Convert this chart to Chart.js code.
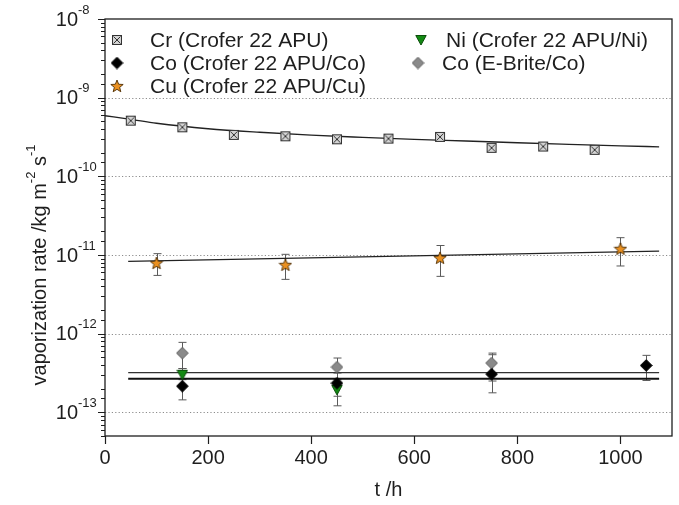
<!DOCTYPE html>
<html lang="en">
<head>
<meta charset="UTF-8">
<title>Vaporization rate vs. time</title>
<script src="https://cdn.jsdelivr.net/npm/chart.js"></script>
<style>
  html, body { margin: 0; padding: 0; background: #fff; }
</style>
</head>
<body>
<canvas id="vapChart" width="679" height="505"></canvas>
<script>
// ---- values ----
const crTime = [50, 150, 250, 350, 450, 550, 650, 750, 850, 950];
const crRate = [5.1e-10, 4.2e-10, 3.36e-10, 3.23e-10, 2.96e-10, 3.02e-10, 3.17e-10, 2.3e-10, 2.39e-10, 2.17e-10];

const cuTime = [100, 350, 650, 1000];
const cuRate = [7.9e-12, 7.5e-12, 9.2e-12, 1.2e-11];
const cuLow  = [5.5e-12, 4.9e-12, 5.35e-12, 7.25e-12];
const cuHigh = [1.04e-11, 1.02e-11, 1.32e-11, 1.66e-11];

const coTime = [150, 450, 750, 1050];
const coRate = [2.15e-13, 2.35e-13, 3.06e-13, 3.94e-13];
const coLow  = [1.44e-13, 1.6e-13, 1.77e-13, 2.54e-13];
const coHigh = [3.2e-13, 3.2e-13, 5.4e-13, 5.3e-13];

const niTime = [150, 450];
const niRate = [3.0e-13, 1.93e-13];
const niLow  = [2.6e-13, 1.21e-13];
const niHigh = [3.6e-13, 2.6e-13];

const ebTime = [150, 450, 750];
const ebRate = [5.66e-13, 3.76e-13, 4.23e-13];
const ebLow  = [3.6e-13, 3.16e-13, 2.5e-13];
const ebHigh = [7.75e-13, 4.9e-13, 5.66e-13];

// fitted curves
const crFitTime = [0, 50, 100, 200, 300, 400, 500, 600, 700, 800, 900, 1000, 1075];
const crFitRate = [5.9e-10, 5.3e-10, 4.73e-10, 4.03e-10, 3.63e-10, 3.34e-10, 3.13e-10, 2.95e-10, 2.81e-10, 2.67e-10, 2.55e-10, 2.44e-10, 2.37e-10];
const cuFitTime = [45, 1075];
const cuFitRate = [8.3e-12, 1.12e-11];
const coFitTime = [45, 1075];
const ebFitRate = [3.2e-13, 3.2e-13];
const coFitRate = [2.67e-13, 2.67e-13];

const yDecades = [-13, -12, -11, -10, -9, -8];

const FONT = '"Liberation Sans", Arial, Helvetica, sans-serif';
const INK = '#1e1e1e';

function pts(xs, ys) {
  return xs.map((x, i) => ({x: x, y: ys[i]}));
}

// marker images
function makeMarker(size, draw) {
  const c = document.createElement('canvas');
  c.width = size; c.height = size;
  draw(c.getContext('2d'), size);
  return c;
}
const crMark = makeMarker(12, g => {
  g.fillStyle = '#d4d4d4';
  g.fillRect(1, 1, 10, 10);
  g.strokeStyle = '#333';
  g.lineWidth = 1;
  g.strokeRect(1.5, 1.5, 9, 9);
  g.beginPath();
  g.moveTo(2.5, 2.5); g.lineTo(9.5, 9.5);
  g.moveTo(9.5, 2.5); g.lineTo(2.5, 9.5);
  g.stroke();
});
function diamond(fill, stroke) {
  return makeMarker(13, g => {
    g.beginPath();
    g.moveTo(6.5, 0.7); g.lineTo(12.3, 6.5); g.lineTo(6.5, 12.3); g.lineTo(0.7, 6.5);
    g.closePath();
    g.fillStyle = fill; g.fill();
    g.strokeStyle = stroke; g.lineWidth = 1; g.stroke();
  });
}
const coMark = diamond('#000', '#000');
const ebMark = diamond('#8a8a8a', '#5e5e5e');
const niMark = makeMarker(12, g => {
  g.beginPath();
  g.moveTo(0.8, 1.5); g.lineTo(11.2, 1.5); g.lineTo(6, 11);
  g.closePath();
  g.fillStyle = '#138a13'; g.fill();
  g.strokeStyle = '#0b4d0b'; g.lineWidth = 1; g.stroke();
});
const cuMark = makeMarker(14, g => {
  g.beginPath();
  for (let k = 0; k < 10; k++) {
    const r = k % 2 === 0 ? 6.5 : 2.8;
    const a = -Math.PI / 2 + k * Math.PI / 5;
    const px = 7 + r * Math.cos(a), py = 7.5 + r * Math.sin(a);
    if (k === 0) g.moveTo(px, py); else g.lineTo(px, py);
  }
  g.closePath();
  g.fillStyle = '#ea9020'; g.fill();
  g.strokeStyle = '#4d2c00'; g.lineWidth = 0.9; g.stroke();
});

function isDecade(v) {
  const l = Math.log10(v);
  return Math.abs(l - Math.round(l)) < 1e-6;
}

// dotted decade grid lines + error bars, under the markers
const underlay = {
  id: 'underlay',
  beforeDatasetsDraw(chart) {
    const {ctx, chartArea: a, scales: {x, y}} = chart;
    ctx.save();
    ctx.strokeStyle = '#8c8c8c';
    ctx.lineWidth = 1;
    ctx.setLineDash([1.2, 2.2]);
    yDecades.forEach(e => {
      if (e >= -8) return;
      const py = Math.round(y.getPixelForValue(Math.pow(10, e))) + 0.5;
      ctx.beginPath(); ctx.moveTo(a.left, py); ctx.lineTo(a.right, py); ctx.stroke();
    });
    ctx.setLineDash([]);
    ctx.strokeStyle = '#5a5a5a';
    chart.data.datasets.forEach(ds => {
      if (!ds.errLow) return;
      ds.data.forEach((p, j) => {
        const px = Math.round(x.getPixelForValue(p.x)) + 0.5;
        const lo = y.getPixelForValue(ds.errLow[j]);
        const hi = y.getPixelForValue(ds.errHigh[j]);
        ctx.beginPath();
        ctx.moveTo(px, lo); ctx.lineTo(px, hi);
        ctx.moveTo(px - 4, lo); ctx.lineTo(px + 4, lo);
        ctx.moveTo(px - 4, hi); ctx.lineTo(px + 4, hi);
        ctx.stroke();
      });
    });
    ctx.restore();
  }
};

// frame, y ticks with superscript labels, axis titles, legend
const overlay = {
  id: 'overlay',
  afterDraw(chart) {
    const {ctx, chartArea: a, scales: {y}} = chart;
    ctx.save();
    ctx.strokeStyle = INK;
    ctx.lineWidth = 1.3;
    ctx.strokeRect(a.left, a.top, a.right - a.left, a.bottom - a.top);

    ctx.lineWidth = 1;
    y.ticks.forEach(t => {
      const py = Math.round(y.getPixelForValue(t.value)) + 0.5;
      const len = isDecade(t.value) ? 7 : 4;
      ctx.beginPath(); ctx.moveTo(a.left - len, py); ctx.lineTo(a.left, py); ctx.stroke();
    });

    ctx.fillStyle = INK;
    ctx.textBaseline = 'middle';
    yDecades.forEach(e => {
      const py = y.getPixelForValue(Math.pow(10, e));
      ctx.font = '20px ' + FONT;
      ctx.textAlign = 'right';
      ctx.fillText('10', 78, py + 1);
      ctx.font = '13px ' + FONT;
      ctx.textAlign = 'left';
      ctx.fillText(String(e), 78, py - 9);
    });

    // y title with superscripts
    const parts = [['vaporization rate /kg m', 20, 0], ['-2', 13, -9], [' s', 20, 0], ['-1', 13, -9]];
    let total = 0;
    parts.forEach(p => { ctx.font = p[1] + 'px ' + FONT; total += ctx.measureText(p[0]).width; });
    ctx.translate(40, 265);
    ctx.rotate(-Math.PI / 2);
    ctx.textAlign = 'left';
    let cx = -total / 2;
    parts.forEach(p => {
      ctx.font = p[1] + 'px ' + FONT;
      ctx.fillText(p[0], cx, p[2]);
      cx += ctx.measureText(p[0]).width;
    });
    ctx.setTransform(1, 0, 0, 1, 0, 0);

    ctx.font = '20px ' + FONT;
    ctx.textAlign = 'center';
    ctx.fillText('t /h', (a.left + a.right) / 2, 490);

    // legend, two columns
    const spots = [[117, 150, 40], [117, 150, 63], [117, 150, 86], [421, 446, 40], [418, 442, 63]];
    ctx.textAlign = 'left';
    ctx.font = '21px ' + FONT;
    chart.data.datasets.forEach(ds => {
      if (ds.legendSlot === undefined) return;
      const s = spots[ds.legendSlot];
      const m = ds.pointStyle;
      ctx.drawImage(m, s[0] - m.width / 2, s[2] - m.height / 2);
      ctx.fillText(ds.label, s[1], s[2] + 1);
    });
    ctx.restore();
  }
};

Chart.defaults.font.family = FONT;
Chart.defaults.color = INK;

new Chart(document.getElementById('vapChart'), {
  type: 'scatter',
  data: {
    datasets: [
      {label: 'Cr (Crofer 22 APU)', data: pts(crTime, crRate), pointStyle: crMark, pointRadius: 5, legendSlot: 0},
      {label: 'Co (Crofer 22 APU/Co)', data: pts(coTime, coRate), pointStyle: coMark, pointRadius: 6,
        errLow: coLow, errHigh: coHigh, legendSlot: 1},
      {label: 'Cu (Crofer 22 APU/Cu)', data: pts(cuTime, cuRate), pointStyle: cuMark, pointRadius: 6,
        errLow: cuLow, errHigh: cuHigh, legendSlot: 2},
      {label: 'Ni (Crofer 22 APU/Ni)', data: pts(niTime, niRate), pointStyle: niMark, pointRadius: 6,
        errLow: niLow, errHigh: niHigh, legendSlot: 3},
      {label: 'Co (E-Brite/Co)', data: pts(ebTime, ebRate), pointStyle: ebMark, pointRadius: 6,
        errLow: ebLow, errHigh: ebHigh, legendSlot: 4},
      {label: 'Cr fit', data: pts(crFitTime, crFitRate), showLine: true, pointRadius: 0,
        borderColor: '#222', borderWidth: 1.4, cubicInterpolationMode: 'monotone'},
      {label: 'Cu fit', data: pts(cuFitTime, cuFitRate), showLine: true, pointRadius: 0,
        borderColor: '#222', borderWidth: 1.4},
      {label: 'E-Brite fit', data: pts(coFitTime, ebFitRate), showLine: true, pointRadius: 0,
        borderColor: '#333', borderWidth: 1.2},
      {label: 'Co fit', data: pts(coFitTime, coFitRate), showLine: true, pointRadius: 0,
        borderColor: '#111', borderWidth: 2}
    ]
  },
  options: {
    responsive: false,
    animation: false,
    devicePixelRatio: 1,
    layout: {padding: {top: 19, right: 7, left: 0, bottom: 0}},
    plugins: {legend: {display: false}, tooltip: {enabled: false}},
    scales: {
      x: {
        type: 'linear', min: 0, max: 1100,
        ticks: {stepSize: 200, includeBounds: false, autoSkip: false, maxRotation: 0, padding: 2,
          font: {size: 20}, color: INK, callback: v => String(v)},
        grid: {drawOnChartArea: false, drawTicks: true, tickLength: 8, tickWidth: 1.2, tickColor: INK},
        border: {display: false},
        afterFit: s => { s.height = 69; }
      },
      y: {
        type: 'logarithmic', min: 5e-14, max: 1e-8,
        ticks: {display: false, autoSkip: false},
        grid: {display: false},
        border: {display: false},
        afterFit: s => { s.width = 105; }
      }
    }
  },
  plugins: [underlay, overlay]
});
</script>
</body>
</html>
